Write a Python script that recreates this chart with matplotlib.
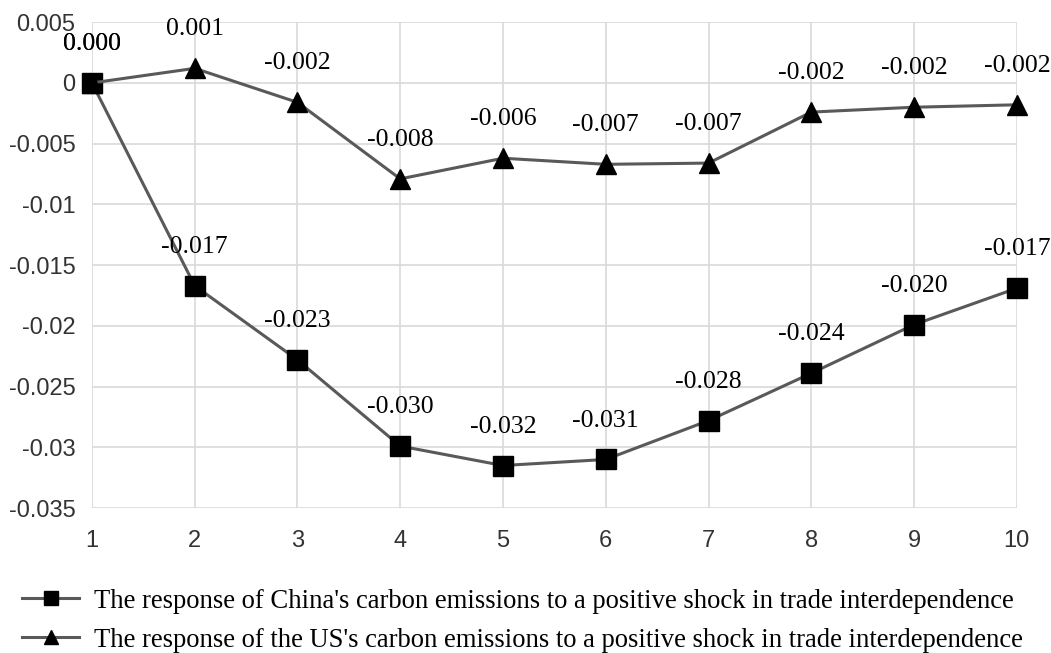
import matplotlib.pyplot as plt

periods = [1, 2, 3, 4, 5, 6, 7, 8, 9, 10]
china = [0.0, -0.0167, -0.0228, -0.0299, -0.0315, -0.0310, -0.0278, -0.0239, -0.0199, -0.0169]
us = [0.0, 0.0012, -0.0016, -0.0079, -0.0062, -0.0067, -0.0066, -0.0024, -0.0020, -0.0018]
china_label = "The response of China's carbon emissions to a positive shock in trade interdependence"
us_label = "The response of the US's carbon emissions to a positive shock in trade interdependence"
yticks = [0.005, 0, -0.005, -0.01, -0.015, -0.02, -0.025, -0.03, -0.035]
ytick_labels = ["0.005", "0", "-0.005", "-0.01", "-0.015", "-0.02", "-0.025", "-0.03", "-0.035"]

fig = plt.figure(figsize=(10.51, 6.53), dpi=100)
ax = fig.add_axes([0.0875, 0.222, 0.88, 0.744])

line_col = '#595959'
ax.plot(periods, china, color=line_col, lw=2.2, marker='s', ms=15,
        mfc='black', mec='black', label=china_label, zorder=3, clip_on=False)
ax.plot(periods, us, color=line_col, lw=2.2, marker='^', ms=14,
        mfc='black', mec='black', label=us_label, zorder=3, clip_on=False)

# data labels above each point
for series in (china, us):
    for x, y in zip(periods, series):
        ax.annotate(f"{y:.3f}", (x, y), xytext=(0, 28), textcoords='offset points',
                    ha='center', va='center', fontsize=18.5, family='Liberation Serif')

ax.set_xlim(1, 10)
ax.set_ylim(-0.035, 0.005)
ax.set_xticks(periods)
ax.set_yticks(yticks)
ax.set_yticklabels(ytick_labels)
ax.grid(True, color='#d9d9d9', lw=1.2)
ax.set_axisbelow(True)
for s in ax.spines.values():
    s.set_visible(False)
ax.tick_params(axis='y', length=0, labelsize=17, pad=12)
ax.tick_params(axis='x', length=0, labelsize=17, pad=16)
for lab in ax.get_xticklabels() + ax.get_yticklabels():
    lab.set_family('Liberation Sans')
    lab.set_color('#333333')

leg = fig.legend(loc='lower left', bbox_to_anchor=(-0.002, -0.036), frameon=False,
                 prop={'family': 'Liberation Serif', 'size': 19.2},
                 handlelength=2.15, handletextpad=0.55, labelspacing=0.52,
                 markerscale=0.7)

fig.savefig('out.png', dpi=100)
